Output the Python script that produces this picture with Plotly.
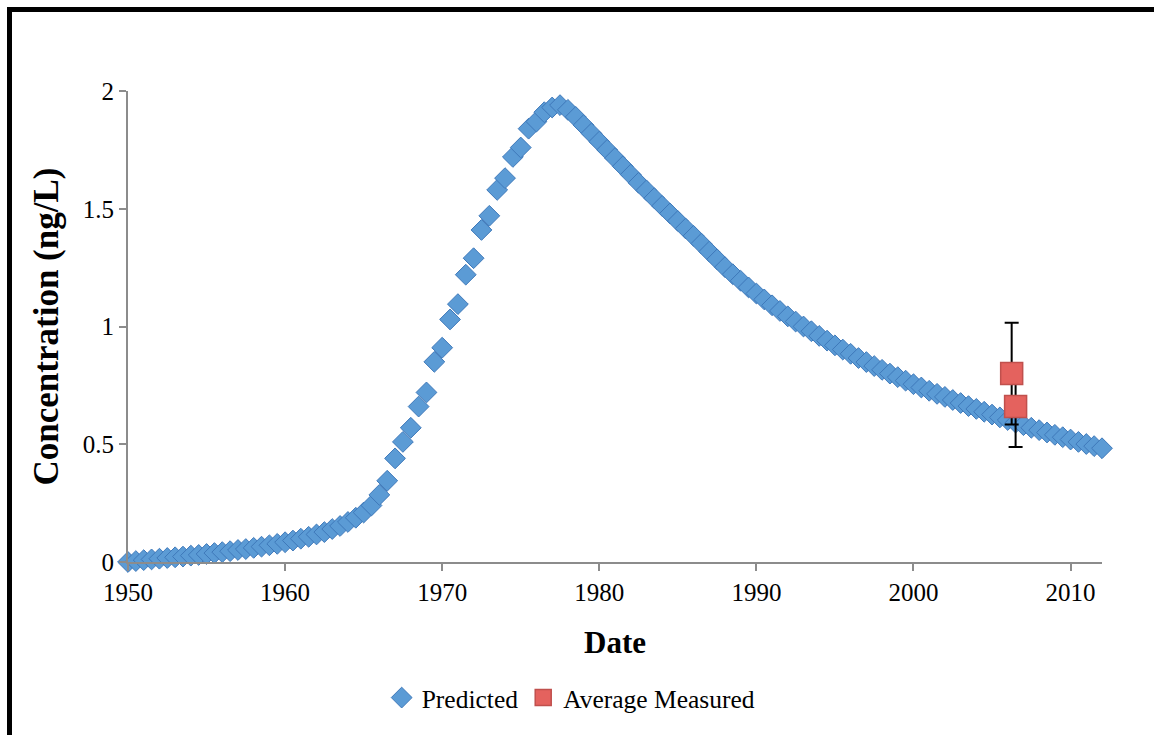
import numpy as np
import plotly.graph_objects as go

# Model output, sampled every half year from 1950 to 2012
predicted_dates = np.arange(1950.0, 2012.01, 0.5)
predicted_conc = [
    0.000, 0.004, 0.008, 0.011, 0.014, 0.017, 0.020, 0.023, 0.027, 0.030,   # 1950-1954.5
    0.034, 0.038, 0.042, 0.046, 0.051, 0.055, 0.060, 0.065, 0.071, 0.077,   # 1955-1959.5
    0.084, 0.091, 0.099, 0.107, 0.117, 0.127, 0.140, 0.153, 0.170, 0.188,   # 1960-1964.5
    0.210, 0.240, 0.285, 0.345, 0.440, 0.510, 0.570, 0.660, 0.720, 0.850,   # 1965-1969.5
    0.910, 1.030, 1.095, 1.220, 1.290, 1.410, 1.470, 1.580, 1.630, 1.720,   # 1970-1974.5
    1.760, 1.840, 1.870, 1.910, 1.930, 1.940, 1.920, 1.890, 1.855, 1.820,   # 1975-1979.5
    1.785, 1.750, 1.715, 1.680, 1.645, 1.610, 1.578, 1.545, 1.512, 1.480,   # 1980-1984.5
    1.448, 1.416, 1.385, 1.352, 1.318, 1.285, 1.252, 1.222, 1.194, 1.166,   # 1985-1989.5
    1.140, 1.115, 1.090, 1.066, 1.043, 1.021, 1.000, 0.980, 0.960, 0.940,   # 1990-1994.5
    0.920, 0.902, 0.884, 0.866, 0.849, 0.832, 0.816, 0.800, 0.785, 0.770,   # 1995-1999.5
    0.755, 0.741, 0.727, 0.714, 0.701, 0.688, 0.675, 0.662, 0.650, 0.638,   # 2000-2004.5
    0.626, 0.614, 0.603, 0.592, 0.581, 0.570, 0.560, 0.550, 0.540, 0.530,   # 2005-2009.5
    0.520, 0.510, 0.501, 0.492, 0.483,                                      # 2010-2012
]

# Field measurements (mean with standard deviation)
measured_dates = [2006.25, 2006.5]
measured_conc = [0.80, 0.66]
measured_sd = [0.216, 0.172]

x_ticks = [1950, 1960, 1970, 1980, 1990, 2000, 2010]
y_ticks = [0, 0.5, 1, 1.5, 2]

SERIF = "Liberation Serif, Times New Roman, serif"
AXIS_GREY = "#8c8c8c"

fig = go.Figure()

fig.add_trace(go.Scatter(
    x=predicted_dates, y=predicted_conc,
    mode="markers", name="Predicted",
    marker=dict(symbol="diamond", size=16, color="#5b9bd5",
                line=dict(color="#3f79ba", width=1)),
    cliponaxis=False,
))

fig.add_trace(go.Scatter(
    x=measured_dates, y=measured_conc,
    mode="markers", name="Average Measured",
    marker=dict(symbol="square", size=22, color="#e4625e",
                line=dict(color="#c0504d", width=1.5)),
    error_y=dict(type="data", array=measured_sd, visible=True,
                 color="black", thickness=2, width=7),
    cliponaxis=False,
))

# Frame lines along the left and top edges of the page
L, R, T, B = 128, 52, 91, 173
W, H = 1154, 735
pw, ph = W - L - R, H - T - B
def px_x(p):
    return (p - L) / pw
def px_y(p):
    return (H - B - p) / ph

fig.add_shape(type="line", xref="paper", yref="paper",
              x0=px_x(9.5), x1=px_x(W + 5), y0=px_y(9.5), y1=px_y(9.5),
              line=dict(color="black", width=5))
fig.add_shape(type="line", xref="paper", yref="paper",
              x0=px_x(9.5), x1=px_x(9.5), y0=px_y(7), y1=px_y(H + 5),
              line=dict(color="black", width=5))

fig.update_layout(
    width=W, height=H,
    margin=dict(l=L, r=R, t=T, b=B),
    paper_bgcolor="white", plot_bgcolor="white",
    font=dict(family=SERIF, color="black", size=25),
    showlegend=True,
    legend=dict(orientation="h", x=0.455, xanchor="center",
                y=px_y(698), yanchor="middle",
                font=dict(family=SERIF, size=25.5), itemwidth=30,
                bgcolor="rgba(0,0,0,0)"),
    xaxis=dict(
        range=[1950, 2012], tickvals=x_ticks, ticktext=[str(t) for t in x_ticks],
        showgrid=False, zeroline=False,
        showline=True, linecolor=AXIS_GREY, linewidth=2,
        ticks="outside", ticklen=7, tickwidth=2, tickcolor=AXIS_GREY,
        tickfont=dict(family=SERIF, size=25),
        title=dict(text="<b>Date</b>", font=dict(family=SERIF, size=31), standoff=26),
    ),
    yaxis=dict(
        range=[0, 2], tickvals=y_ticks, ticktext=["0", "0.5", "1", "1.5", "2"],
        showgrid=False, zeroline=False,
        showline=True, linecolor=AXIS_GREY, linewidth=2,
        ticks="outside", ticklen=7, tickwidth=2, tickcolor=AXIS_GREY,
        tickfont=dict(family=SERIF, size=25),
        title=dict(text="<b>Concentration (ng/L)</b>", font=dict(family=SERIF, size=35),
                   standoff=14),
    ),
)

fig.write_html("out.html")
